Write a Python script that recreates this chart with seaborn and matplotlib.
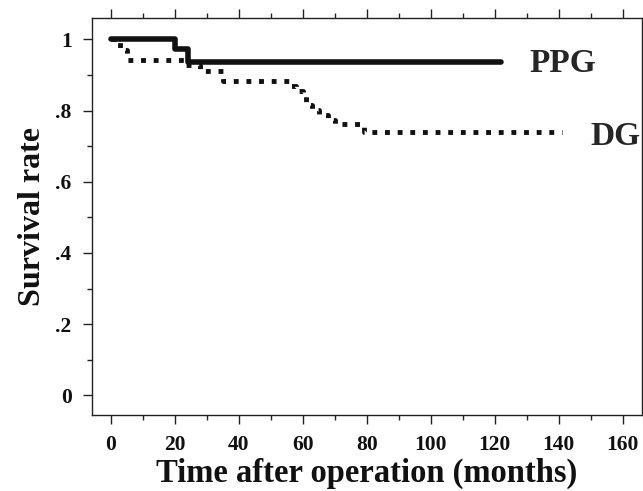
import matplotlib
matplotlib.use("Agg")
import matplotlib.pyplot as plt
import seaborn as sns
import pandas as pd
from matplotlib.ticker import MultipleLocator

# Kaplan-Meier style survival steps
ppg_time = [0, 20, 24, 122]
ppg_surv = [1.0, 0.972, 0.936, 0.936]

dg_time = [0, 3, 5, 23, 28, 35, 56, 58, 60, 61, 63, 65, 68, 70, 79, 141]
dg_surv = [1.0, 0.97, 0.941, 0.928, 0.912, 0.884, 0.868, 0.855, 0.84,
           0.815, 0.801, 0.787, 0.773, 0.762, 0.739, 0.739]

x_ticks = [0, 20, 40, 60, 80, 100, 120, 140, 160]
y_ticks = [0, 0.2, 0.4, 0.6, 0.8, 1.0]
y_tick_labels = ["0", ".2", ".4", ".6", ".8", "1"]

ppg = pd.DataFrame({"time": ppg_time, "surv": ppg_surv})
dg = pd.DataFrame({"time": dg_time, "surv": dg_surv})

sns.set_style("white")
plt.rcParams["font.family"] = ["Liberation Serif", "DejaVu Serif"]
plt.rcParams["font.weight"] = "bold"

fig = plt.figure(figsize=(6.43, 4.91), dpi=100)
ax = fig.add_axes([0.1426, 0.1548, 0.998 - 0.1426, 0.9627 - 0.1548])

ink = "#111111"
sns.lineplot(data=ppg, x="time", y="surv", drawstyle="steps-post",
             color=ink, linewidth=4.0, ax=ax, estimator=None)
sns.lineplot(data=dg, x="time", y="surv", drawstyle="steps-post",
             color=ink, linewidth=3.5, linestyle=(0, (1, 1.6)), ax=ax,
             estimator=None)

ax.text(131, 0.933, "PPG", fontsize=24, fontweight="bold", va="center", ha="left")
ax.text(150, 0.726, "DG", fontsize=24, fontweight="bold", va="center", ha="left")

ax.set_xlim(-6, 166)
ax.set_ylim(-0.055, 1.059)
ax.set_xticks(x_ticks)
ax.set_xticklabels([str(v) for v in x_ticks])
ax.set_yticks(y_ticks)
ax.set_yticklabels(y_tick_labels)
ax.xaxis.set_minor_locator(MultipleLocator(10))
ax.yaxis.set_minor_locator(MultipleLocator(0.1))

for s in ax.spines.values():
    s.set_visible(True)
    s.set_color("#222222")
    s.set_linewidth(1.0)

ax.tick_params(axis="both", which="major", direction="out", length=6.5, width=1,
               color="#222222", labelsize=15.5, pad=8, labelcolor="#111111",
               top=True, right=True, bottom=True, left=True)
ax.tick_params(axis="both", which="minor", direction="out", length=3.5, width=1,
               color="#222222", top=True, right=True, bottom=True, left=True)
for lab in ax.get_xticklabels() + ax.get_yticklabels():
    lab.set_fontweight("bold")

ax.set_xlabel("Time after operation (months)", fontsize=23.5, fontweight="bold",
              labelpad=2, color="#111111")
ax.set_ylabel("Survival rate", fontsize=23, fontweight="bold", labelpad=6,
              color="#111111")

fig.savefig("out.png", dpi=100)
